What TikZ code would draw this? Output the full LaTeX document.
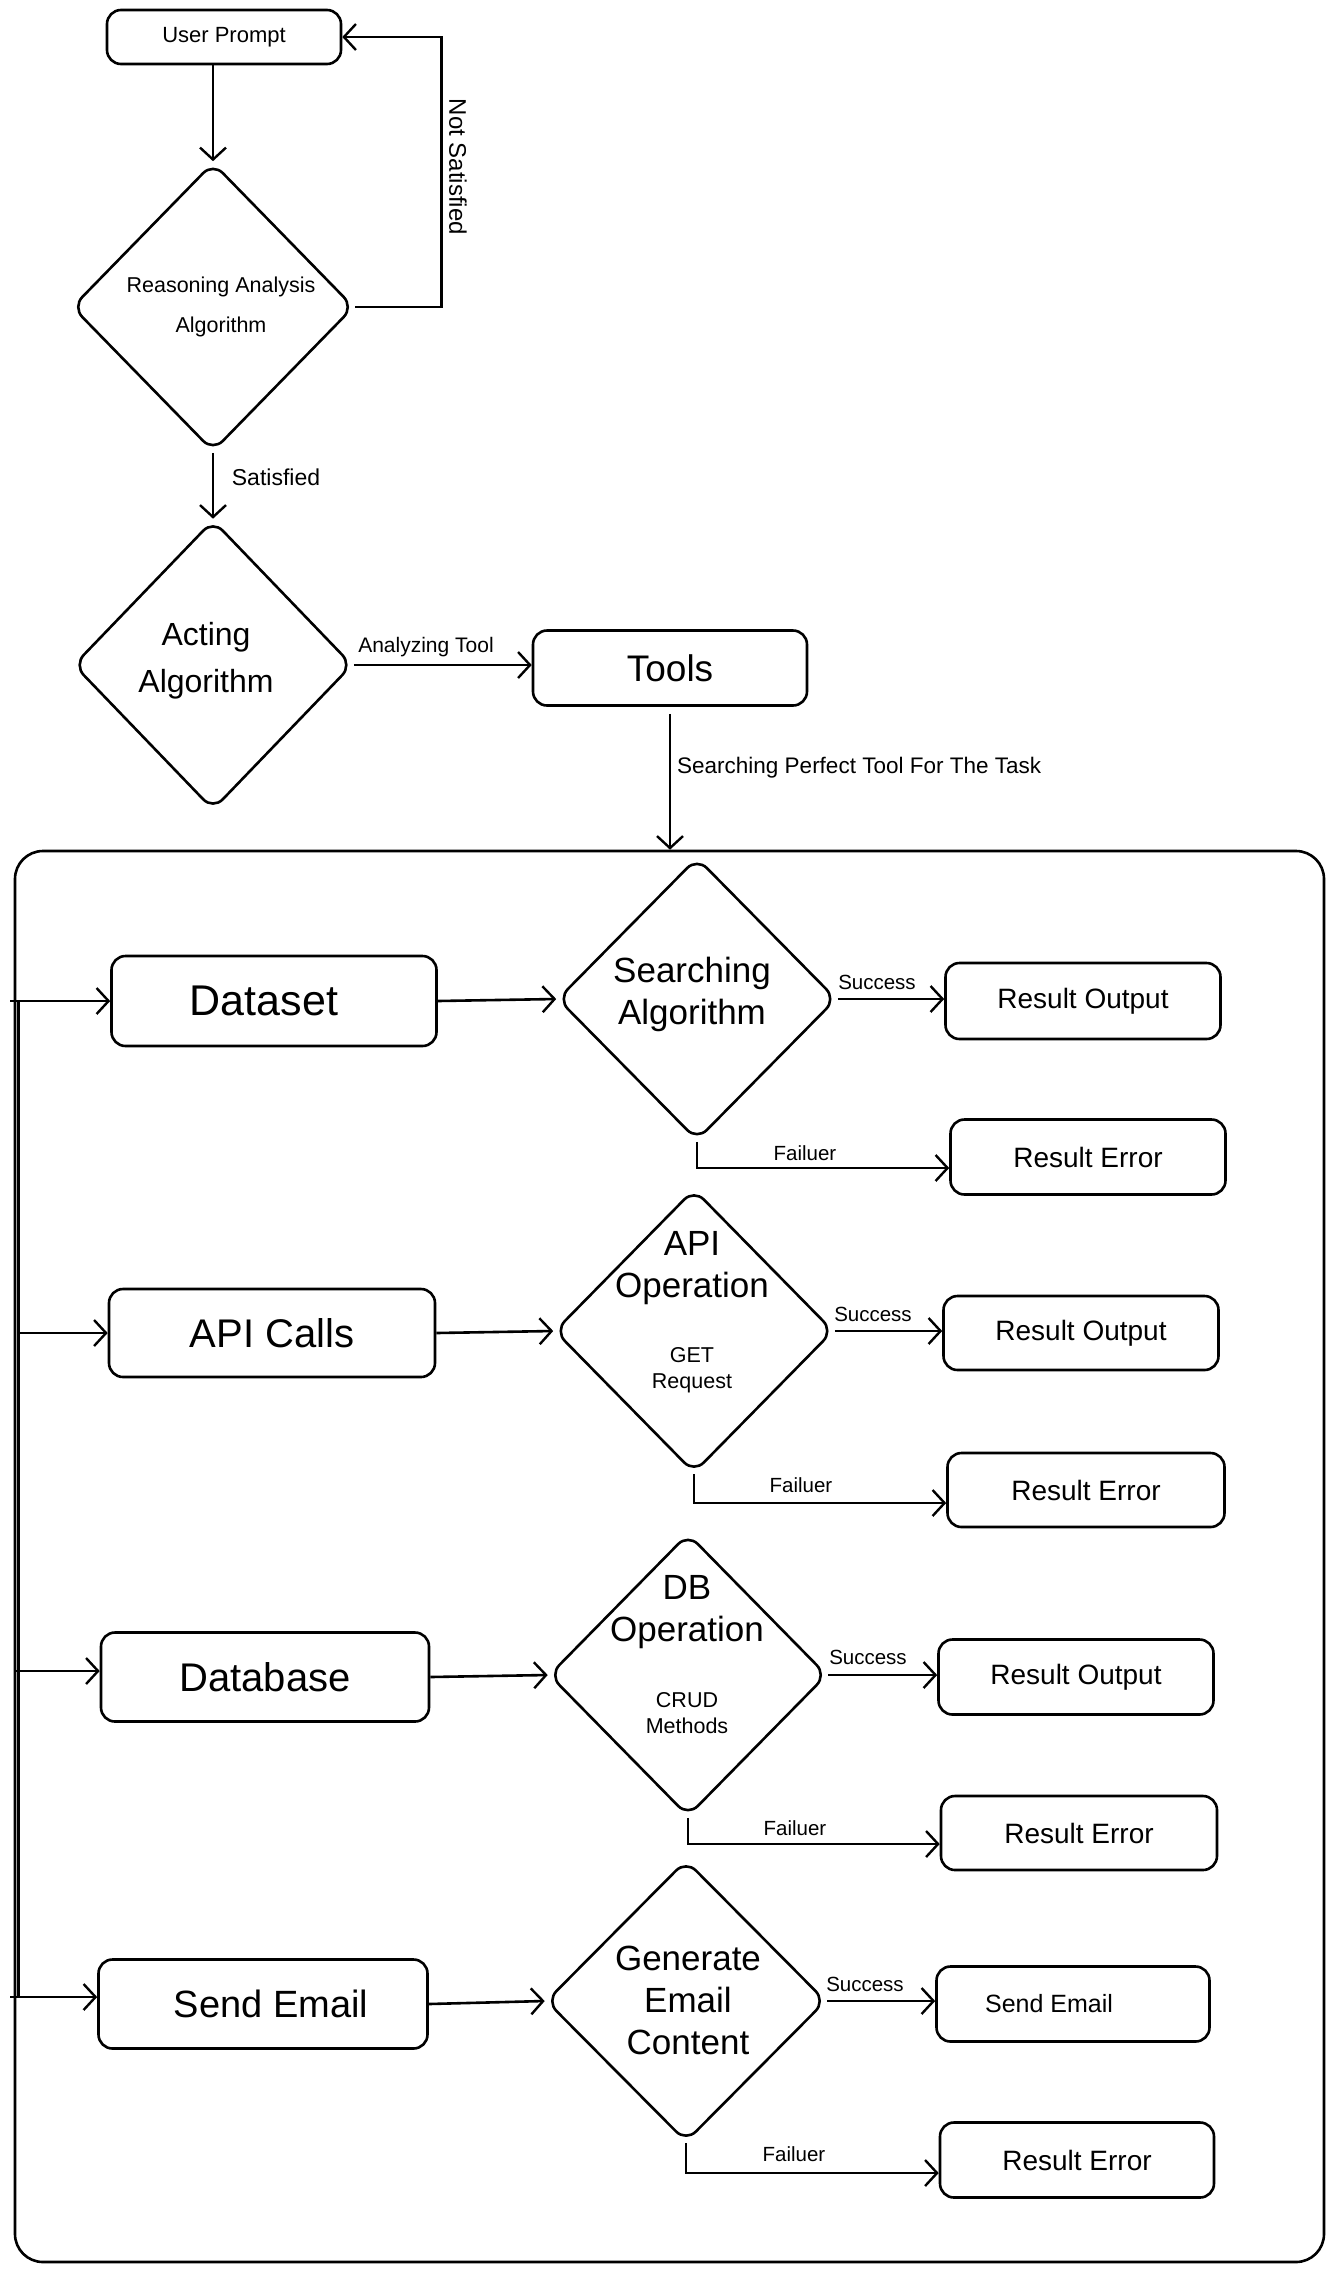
\documentclass[tikz,border=0pt]{standalone}
\usepackage{fontspec}
\setmainfont{Liberation Sans}
\usetikzlibrary{shapes.geometric,arrows.meta}
\newcommand\myfs[2]{\fontsize{#1}{#2}\selectfont}
\begin{document}
\begin{tikzpicture}[x=1pt,y=-1pt,
  every node/.style={inner sep=0pt},
  box/.style={draw, rounded corners=14pt, line width=2.6pt},
  dia/.style={draw, diamond, rounded corners=14pt, line width=2.6pt},
  arr/.style={line width=2.6pt, -{Straight Barb[length=12pt,width=26pt,line width=2.4pt]}},
  ln/.style={line width=2.6pt},
  txt/.style={align=center},
  big/.style={font=\myfs{40}{46}},
  res/.style={font=\myfs{28}{33}},
  ttl/.style={txt, font=\myfs{35}{42}},
  sub/.style={txt, font=\myfs{21.5}{26}},
  lab/.style={font=\myfs{20.5}{24}},
]
\useasboundingbox (0,0) rectangle (1334,2271);

% container
\node[box, rounded corners=28pt, minimum width=1309pt, minimum height=1411pt] (cont) at (669.5,1556.5) {};

% top part
\node[box, minimum width=234pt, minimum height=54pt, font=\myfs{22}{26}] (up) at (224,37) {User Prompt};
\node[dia, minimum width=282pt, minimum height=289pt] (rea) at (213,307) {};
\node[txt, font=\myfs{21.5}{40}] (reat) at (221,307) {Reasoning Analysis\\Algorithm};
\draw[arr] (up.south -| rea.north) -- (rea.north);
\draw[arr] (rea.east) -- ++(86,0) |- (up.east);
\node[rotate=-90, font=\myfs{24}{28}] (ns) at (458,167) {Not Satisfied};

\node[dia, minimum width=279pt, minimum height=290pt] (act) at (213,665) {};
\node[txt, font=\myfs{32}{47}] (actt) at (206,661) {Acting\\Algorithm};
\draw[arr] (rea.south) -- (act.north);
\node[font=\myfs{23}{27}] (satl) at (276,477) {Satisfied};

\node[box, minimum width=274pt, minimum height=75pt, font=\myfs{37}{42}] (tools) at (670,668) {Tools};
\draw[arr] (act.east) -- (act.east -| tools.west);
\node[font=\myfs{21}{25}] (atl) at (426,647) {Analyzing Tool};
\draw[arr, shorten <=7pt] (tools.south) -- (tools.south |- cont.north);
\node[anchor=west, font=\myfs{22.5}{26}] (spl) at (677,768) {Searching Perfect Tool For The Task};

% left feeder
\coordinate (vt) at (18.5,1001);
\coordinate (vb) at (18.5,1997);
\draw[ln] (vt) -- (vb);

% row 1
\node[box, font=\myfs{43}{48}, minimum width=325pt, minimum height=90pt] (ds) at (274,1001) {\hspace*{-20pt}Dataset};
\node[dia, minimum width=279pt, minimum height=283pt] (sa) at (697,999) {};
\node[ttl] (sat) at (692,994) {Searching\\Algorithm};
\node[box, res, minimum width=275pt, minimum height=76pt] (ro1) at (1083,1001) {Result Output};
\node[box, res, minimum width=275pt, minimum height=75pt] (re1) at (1088,1157) {Result Error};
\coordinate (l1) at (10,1001);
\draw[arr] (l1) -- (ds.west);
\draw[arr] (ds.east) -- (sa.west);
\draw[arr] (sa.east) -- (sa.east -| ro1.west);
\draw[arr] (sa.south) |- ([yshift=-11pt]re1.west);
\node[lab] (s1) at (877,982) {Success};
\node[lab] (f1) at (805,1153) {Failuer};

% row 2
\node[box, big, minimum width=326pt, minimum height=88pt] (api) at (272,1333) {API Calls};
\node[dia, minimum width=279pt, minimum height=284pt] (apid) at (694,1331) {};
\node[ttl] (apit) at (692,1268) {API\\Operation};
\node[sub] (apis) at (692,1370) {GET\\Request};
\node[box, res, minimum width=275pt, minimum height=74pt] (ro2) at (1081,1333) {Result Output};
\node[box, res, minimum width=277pt, minimum height=74pt] (re2) at (1086,1490) {Result Error};
\coordinate (l2) at (18.5,1333);
\draw[arr] (l2) -- (l2 -| api.west);
\draw[arr] (api.east) -- (apid.west);
\draw[arr] (apid.east) -- (apid.east -| ro2.west);
\draw[arr] (apid.south) |- ([yshift=-13pt]re2.west);
\node[lab] (s2) at (873,1314) {Success};
\node[lab] (f2) at (801,1485) {Failuer};

% row 3
\node[box, big, minimum width=328pt, minimum height=89pt] (dbb) at (265,1677) {Database};
\node[dia, minimum width=278pt, minimum height=283pt] (dbd) at (688,1675) {};
\node[ttl] (dbt) at (687,1612) {DB\\Operation};
\node[sub] (dbs) at (687,1713) {CRUD\\Methods};
\node[box, res, minimum width=275pt, minimum height=75pt] (ro3) at (1076,1677) {Result Output};
\node[box, res, minimum width=276pt, minimum height=74pt] (re3) at (1079,1833) {Result Error};
\coordinate (l3) at (16,1671);
\draw[arr] (l3) -- (l3 -| dbb.west);
\draw[arr] (dbb.east) -- (dbd.west);
\draw[arr] (dbd.east) -- (dbd.east -| ro3.west);
\draw[arr] (dbd.south) |- ([yshift=-11pt]re3.west);
\node[lab] (s3) at (868,1657) {Success};
\node[lab] (f3) at (795,1828) {Failuer};

% row 4
\node[box, font=\myfs{38}{44}, minimum width=329pt, minimum height=89pt] (se) at (263,2004) {\hspace*{16pt}Send Email};
\node[dia, minimum width=280pt, minimum height=282pt] (gen) at (686,2001) {};
\node[ttl] (gent) at (688,2000) {Generate\\Email\\Content};
\node[box, font=\myfs{25}{30}, minimum width=273pt, minimum height=75pt] (ro4) at (1073,2004) {\hspace*{-48pt}Send Email};
\node[box, res, minimum width=274pt, minimum height=75pt] (re4) at (1077,2160) {Result Error};
\coordinate (l4) at (10,1997);
\draw[arr] (l4) -- (l4 -| se.west);
\draw[arr] (se.east) -- (gen.west);
\draw[arr] (gen.east) -- (gen.east -| ro4.west);
\draw[arr] (gen.south) |- ([yshift=-13pt]re4.west);
\node[lab] (s4) at (865,1984) {Success};
\node[lab] (f4) at (794,2154) {Failuer};
\end{tikzpicture}
\end{document}
